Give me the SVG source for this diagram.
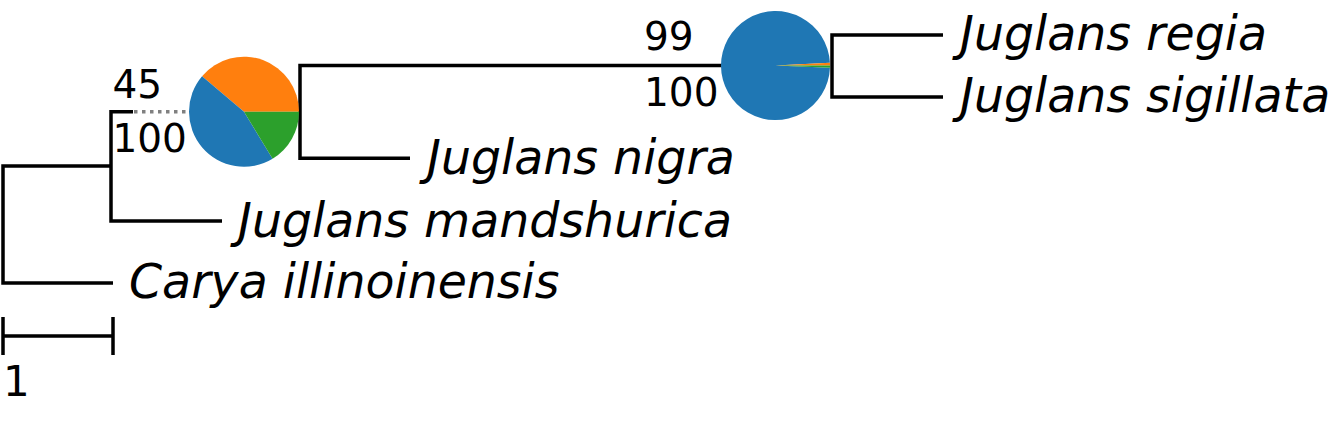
<svg xmlns="http://www.w3.org/2000/svg" width="1334" height="428" viewBox="0 0 1334 428">
<style>
.br{fill:none;stroke:#000;stroke-width:3.5;stroke-linejoin:miter;stroke-linecap:butt}
.dot{fill:none;stroke:#808080;stroke-width:3.5;stroke-dasharray:3.5 4.5}
.leaf{font-family:"DejaVu Sans",sans-serif;font-style:italic;font-size:47.4px;fill:#000}
.sup{font-family:"DejaVu Sans",sans-serif;font-size:39px;fill:#000}
.c0{fill:#1f77b4}.c1{fill:#ff7f0e}.c2{fill:#2ca02c}
</style>
<rect width="1334" height="428" fill="#fff"/>
<g id="connectors">
<path class="br" d="M111 166 H3 V283 H113"/>
<path class="br" d="M133 111.7 H111 V221 H222"/>
<path class="dot" d="M134 111.7 H190"/>
<path class="br" d="M775 65.5 H300 V158.3 H410"/>
<path class="br" d="M943 35 H832 V97 H943"/>
</g>
<g id="node-pie1">
<path class="c1" d="M244 111.7 L299 111.7 A55 55 0 0 0 202.05 76.13 Z"/>
<path class="c0" d="M244 111.7 L202.05 76.13 A55 55 0 0 0 272.57 158.7 Z"/>
<path class="c2" d="M244 111.7 L272.57 158.7 A55 55 0 0 0 299 111.7 Z"/>
<text class="sup" x="112.4" y="97.7">45</text>
<text class="sup" x="112.4" y="151.7">100</text>
</g>
<g id="node-pie2">
<path class="c0" d="M775.5 65.5 L829.93 62.84 A54.5 54.5 0 1 0 829.96 67.69 Z"/>
<path class="c1" d="M775.5 65.5 L830 65.5 A54.5 54.5 0 0 0 829.93 62.84 Z"/>
<path class="c2" d="M775.5 65.5 L829.96 67.69 A54.5 54.5 0 0 0 830 65.5 Z"/>
<text class="sup" x="644" y="50">99</text>
<text class="sup" x="644" y="106">100</text>
</g>
<g id="leaf-regia"><text class="leaf" x="960" y="50">Juglans regia</text></g>
<g id="leaf-sigillata"><text class="leaf" x="960" y="112">Juglans sigillata</text></g>
<g id="leaf-nigra"><text class="leaf" x="427" y="174">Juglans nigra</text></g>
<g id="leaf-mandshurica"><text class="leaf" x="238" y="236.5">Juglans mandshurica</text></g>
<g id="leaf-carya"><text class="leaf" x="129" y="298">Carya illinoinensis</text></g>
<g id="scale">
<path class="br" d="M3 317 V355 M3 336 H113 M113 317 V355"/>
<text class="sup" x="3" y="396" style="font-size:42px">1</text>
</g>
</svg>
